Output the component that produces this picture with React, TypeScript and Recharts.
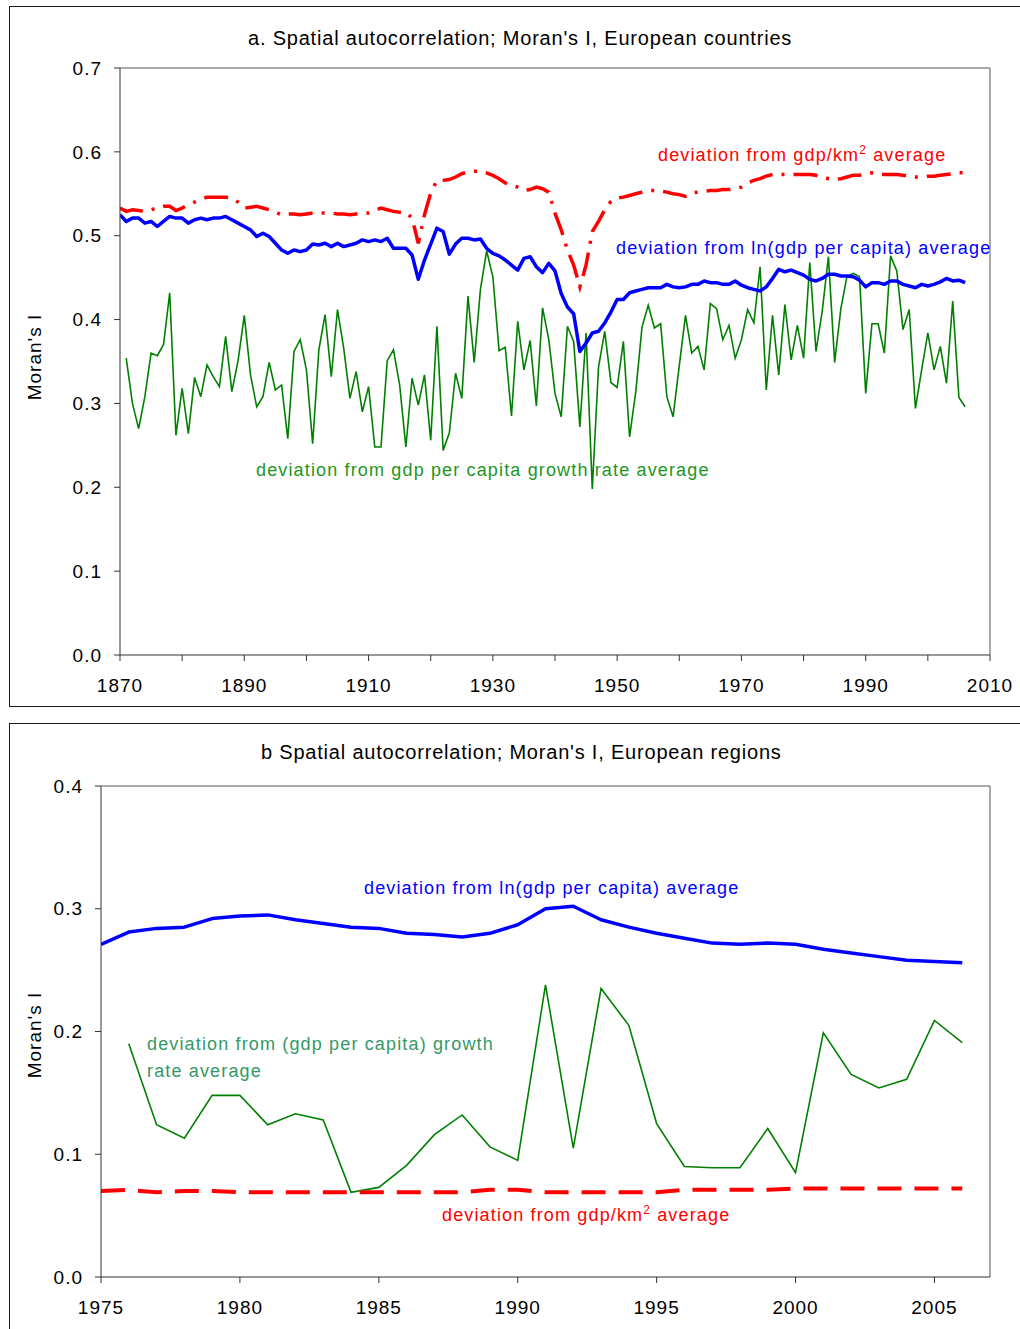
import React from 'react';
import { LineChart, Line, XAxis, YAxis, ReferenceLine } from 'recharts';

// ---- panel a: European countries, 1870-2006 ----
const FIRST_YEAR_A = 1870;

const densityA = [
  0.533, 0.529, 0.531, 0.530, 0.529, 0.531, 0.533, 0.535, 0.535, 0.530,
  0.533, 0.537, 0.540, 0.543, 0.546, 0.546, 0.546, 0.546, 0.545, 0.540,
  0.533, 0.534, 0.535, 0.533, 0.531, 0.528, 0.525, 0.526, 0.526, 0.525,
  0.526, 0.527, 0.527, 0.527, 0.527, 0.526, 0.526, 0.525, 0.526, 0.527,
  0.527, 0.530, 0.533, 0.531, 0.529, 0.528, 0.528, 0.521, 0.491, 0.525,
  0.551, 0.566, 0.566, 0.567, 0.570, 0.574, 0.576, 0.577, 0.577, 0.575,
  0.572, 0.568, 0.563, 0.560, 0.558, 0.554, 0.555, 0.558, 0.556, 0.552,
  0.527, 0.507, 0.483, 0.465, 0.439, 0.465, 0.505, 0.517, 0.531, 0.541,
  0.545, 0.546, 0.548, 0.550, 0.552, 0.554, 0.554, 0.553, 0.552, 0.550,
  0.549, 0.547, 0.551, 0.552, 0.553, 0.554, 0.554, 0.555, 0.555, 0.556,
  0.558, 0.563, 0.566, 0.568, 0.571, 0.573, 0.573, 0.573, 0.573, 0.573,
  0.573, 0.573, 0.572, 0.570, 0.568, 0.567, 0.568, 0.570, 0.572, 0.572,
  0.574, 0.575, 0.574, 0.573, 0.573, 0.573, 0.572, 0.571, 0.570, 0.570,
  0.571, 0.571, 0.572, 0.573, 0.574, 0.575, 0.575,
];

const lnGdpA = [
  0.525, 0.517, 0.521, 0.521, 0.515, 0.517, 0.511, 0.517, 0.523, 0.521,
  0.521, 0.515, 0.519, 0.521, 0.519, 0.521, 0.521, 0.523, 0.519, 0.515,
  0.511, 0.507, 0.499, 0.503, 0.499, 0.491, 0.483, 0.479, 0.483, 0.481,
  0.483, 0.490, 0.489, 0.491, 0.487, 0.491, 0.487, 0.489, 0.491, 0.495,
  0.493, 0.495, 0.493, 0.497, 0.485, 0.485, 0.485, 0.477, 0.448, 0.471,
  0.490, 0.509, 0.505, 0.478, 0.490, 0.497, 0.497, 0.495, 0.496, 0.485,
  0.479, 0.476, 0.471, 0.465, 0.459, 0.473, 0.475, 0.463, 0.456, 0.467,
  0.458, 0.431, 0.415, 0.407, 0.362, 0.372, 0.384, 0.386, 0.396, 0.409,
  0.424, 0.424, 0.432, 0.434, 0.436, 0.438, 0.438, 0.438, 0.442, 0.439,
  0.438, 0.439, 0.442, 0.442, 0.446, 0.444, 0.444, 0.442, 0.442, 0.446,
  0.441, 0.438, 0.436, 0.434, 0.439, 0.449, 0.460, 0.457, 0.459, 0.456,
  0.453, 0.448, 0.446, 0.449, 0.454, 0.454, 0.452, 0.452, 0.451, 0.447,
  0.439, 0.444, 0.444, 0.442, 0.446, 0.446, 0.442, 0.440, 0.438, 0.442,
  0.440, 0.442, 0.445, 0.449, 0.446, 0.447, 0.444,
];

// growth rate series starts one year later (1871)
const growthA = [
  null, 0.354, 0.300, 0.270, 0.308, 0.360, 0.357, 0.370, 0.432, 0.262,
  0.318, 0.264, 0.331, 0.308, 0.346, 0.332, 0.320, 0.380, 0.314, 0.351,
  0.405, 0.334, 0.296, 0.308, 0.349, 0.316, 0.322, 0.258, 0.362, 0.376,
  0.340, 0.252, 0.364, 0.406, 0.332, 0.412, 0.366, 0.306, 0.338, 0.290,
  0.320, 0.248, 0.248, 0.351, 0.364, 0.322, 0.248, 0.330, 0.298, 0.334,
  0.256, 0.392, 0.244, 0.265, 0.336, 0.306, 0.428, 0.349, 0.436, 0.482,
  0.451, 0.363, 0.367, 0.285, 0.398, 0.340, 0.375, 0.297, 0.414, 0.376,
  0.312, 0.284, 0.392, 0.374, 0.272, 0.384, 0.198, 0.343, 0.386, 0.325,
  0.319, 0.374, 0.260, 0.314, 0.391, 0.417, 0.390, 0.395, 0.308, 0.284,
  0.345, 0.405, 0.360, 0.368, 0.340, 0.419, 0.413, 0.376, 0.393, 0.354,
  0.376, 0.412, 0.396, 0.463, 0.316, 0.405, 0.334, 0.418, 0.352, 0.393,
  0.354, 0.468, 0.362, 0.410, 0.475, 0.349, 0.413, 0.452, 0.455, 0.451,
  0.312, 0.395, 0.395, 0.360, 0.476, 0.458, 0.388, 0.412, 0.294, 0.340,
  0.384, 0.340, 0.368, 0.324, 0.422, 0.307, 0.296,
];

const xTicksA = [1870, 1880, 1890, 1900, 1910, 1920, 1930, 1940, 1950, 1960, 1970, 1980, 1990, 2000, 2010];
const xLabelsA = [1870, 1890, 1910, 1930, 1950, 1970, 1990, 2010];
const yTicksA = [0, 0.1, 0.2, 0.3, 0.4, 0.5, 0.6, 0.7];

// ---- panel b: European regions, 1975-2006 ----
const FIRST_YEAR_B = 1975;

const lnGdpB = [
  0.271, 0.281, 0.284, 0.285, 0.292, 0.294, 0.295, 0.291, 0.288, 0.285,
  0.284, 0.280, 0.279, 0.277, 0.280, 0.287, 0.300, 0.302, 0.291, 0.285,
  0.280, 0.276, 0.272, 0.271, 0.272, 0.271, 0.267, 0.264, 0.261, 0.258,
  0.257, 0.256,
];

const growthB = [
  null, 0.190, 0.124, 0.113, 0.148, 0.148, 0.124, 0.133, 0.128, 0.069,
  0.073, 0.091, 0.116, 0.132, 0.106, 0.095, 0.238, 0.105, 0.235, 0.205,
  0.125, 0.090, 0.089, 0.089, 0.121, 0.085, 0.199, 0.165, 0.154, 0.161,
  0.209, 0.191,
];

const densityB = [
  0.070, 0.071, 0.069, 0.070, 0.070, 0.069, 0.069, 0.069, 0.069, 0.069,
  0.069, 0.069, 0.069, 0.069, 0.071, 0.071, 0.069, 0.069, 0.069, 0.069,
  0.069, 0.071, 0.071, 0.071, 0.071, 0.072, 0.072, 0.072, 0.072, 0.072,
  0.072, 0.072,
];

const xTicksB = [1975, 1980, 1985, 1990, 1995, 2000, 2005];
const yTicksB = [0, 0.1, 0.2, 0.3, 0.4];

const dataA = lnGdpA.map((v, i) => ({
  year: FIRST_YEAR_A + i,
  lnGdp: v,
  density: densityA[i],
  growth: growthA[i],
}));

const dataB = lnGdpB.map((v, i) => ({
  year: FIRST_YEAR_B + i,
  lnGdp: v,
  density: densityB[i],
  growth: growthB[i],
}));

const FONT = '"Liberation Sans", Arial, sans-serif';
const tickStyle = { fontSize: 19, fill: '#000', fontFamily: FONT, letterSpacing: 1 };
const AXIS = '#333';
const FRAME = '#8c8c8c';

function Txt({ x, y, color = '#000', size = 18, children, spacing = 1.15 }: any) {
  return (
    <div
      style={{
        position: 'absolute',
        left: x,
        top: y - 11,
        height: 22,
        lineHeight: '22px',
        fontSize: size,
        color,
        fontFamily: FONT,
        whiteSpace: 'nowrap',
        letterSpacing: spacing,
      }}
    >
      {children}
    </div>
  );
}

function YTitle({ cy }: { cy: number }) {
  return (
    <div
      style={{
        position: 'absolute',
        left: 35 - 50,
        top: cy - 11,
        width: 100,
        height: 22,
        lineHeight: '22px',
        textAlign: 'center',
        fontSize: 19,
        letterSpacing: 1,
        fontFamily: FONT,
        transform: 'rotate(-90deg)',
      }}
    >
      Moran's I
    </div>
  );
}

const boxStyle: React.CSSProperties = {
  position: 'absolute',
  left: 9,
  width: 1040,
  border: '1px solid #1a1a1a',
  boxSizing: 'border-box',
};

const sup = { fontSize: 12, lineHeight: 0 };

export default function App() {
  return (
    <div style={{ position: 'absolute', left: 0, top: 0, width: 1020, height: 1329, overflow: 'hidden', background: '#fff' }}>
      <div style={{ ...boxStyle, top: 6, height: 701 }} />
      <div style={{ ...boxStyle, top: 723, height: 640 }} />

      <div style={{ position: 'absolute', left: 0, top: 0 }}>
        <LineChart width={1020} height={706} data={dataA} margin={{ top: 68, right: 30, bottom: 21, left: 60 }}>
          <XAxis
            dataKey="year"
            type="number"
            domain={[1870, 2010]}
            ticks={xTicksA}
            interval={0}
            tickFormatter={(v: number) => (xLabelsA.includes(v) ? String(v) : '')}
            tick={tickStyle}
            tickSize={6}
            tickMargin={18}
            height={30}
            stroke={AXIS}
            allowDataOverflow
          />
          <YAxis
            type="number"
            domain={[0, 0.7]}
            ticks={yTicksA}
            interval={0}
            tickFormatter={(v: number) => v.toFixed(1)}
            tick={tickStyle}
            tickSize={6}
            tickMargin={12}
            width={60}
            stroke={AXIS}
            allowDataOverflow
          />
          <ReferenceLine y={0.7} stroke={FRAME} strokeWidth={1.5} />
          <ReferenceLine x={2010} stroke={FRAME} strokeWidth={1.5} />
          <Line dataKey="growth" stroke="#008000" strokeWidth={1.6} dot={false} isAnimationActive={false} />
          <Line dataKey="lnGdp" stroke="#0000ff" strokeWidth={3.5} dot={false} strokeLinejoin="round" isAnimationActive={false} />
          <Line dataKey="density" stroke="#ff0000" strokeWidth={3.5} strokeDasharray="24 9 3 9" dot={false} isAnimationActive={false} />
        </LineChart>
      </div>

      <div style={{ position: 'absolute', left: 0, top: 723 }}>
        <LineChart width={1020} height={606} data={dataB} margin={{ top: 63, right: 30, bottom: 22, left: 41 }}>
          <XAxis
            dataKey="year"
            type="number"
            domain={[1975, 2007]}
            ticks={xTicksB}
            interval={0}
            tick={tickStyle}
            tickSize={6}
            tickMargin={18}
            height={30}
            stroke={AXIS}
            allowDataOverflow
          />
          <YAxis
            type="number"
            domain={[0, 0.4]}
            ticks={yTicksB}
            interval={0}
            tickFormatter={(v: number) => v.toFixed(1)}
            tick={tickStyle}
            tickSize={6}
            tickMargin={12}
            width={60}
            stroke={AXIS}
            allowDataOverflow
          />
          <ReferenceLine y={0.4} stroke={FRAME} strokeWidth={1.5} />
          <ReferenceLine x={2007} stroke={FRAME} strokeWidth={1.5} />
          <Line dataKey="growth" stroke="#008000" strokeWidth={1.6} dot={false} isAnimationActive={false} />
          <Line dataKey="lnGdp" stroke="#0000ff" strokeWidth={3.5} dot={false} strokeLinejoin="round" isAnimationActive={false} />
          <Line dataKey="density" stroke="#ff0000" strokeWidth={4} strokeDasharray="24 13" dot={false} isAnimationActive={false} />
        </LineChart>
      </div>

      <Txt x={248} y={38} size={20} spacing={0.8}>a. Spatial autocorrelation; Moran's I, European countries</Txt>
      <Txt x={261} y={752} size={20} spacing={0.8}>b Spatial autocorrelation; Moran's I, European regions</Txt>
      <YTitle cy={357} />
      <YTitle cy={1035} />

      <Txt x={658} y={155} color="#ff0000">deviation from gdp/km<sup style={sup}>2</sup> average</Txt>
      <Txt x={616} y={248} color="#0000ff">deviation from ln(gdp per capita) average</Txt>
      <Txt x={256} y={470} color="#1e961e">deviation from gdp per capita growth rate average</Txt>

      <Txt x={364} y={888} color="#0000ff">deviation from ln(gdp per capita) average</Txt>
      <Txt x={147} y={1044} color="#339966">deviation from (gdp per capita) growth</Txt>
      <Txt x={147} y={1071} color="#339966">rate average</Txt>
      <Txt x={442} y={1215} color="#ff0000">deviation from gdp/km<sup style={sup}>2</sup> average</Txt>
    </div>
  );
}
